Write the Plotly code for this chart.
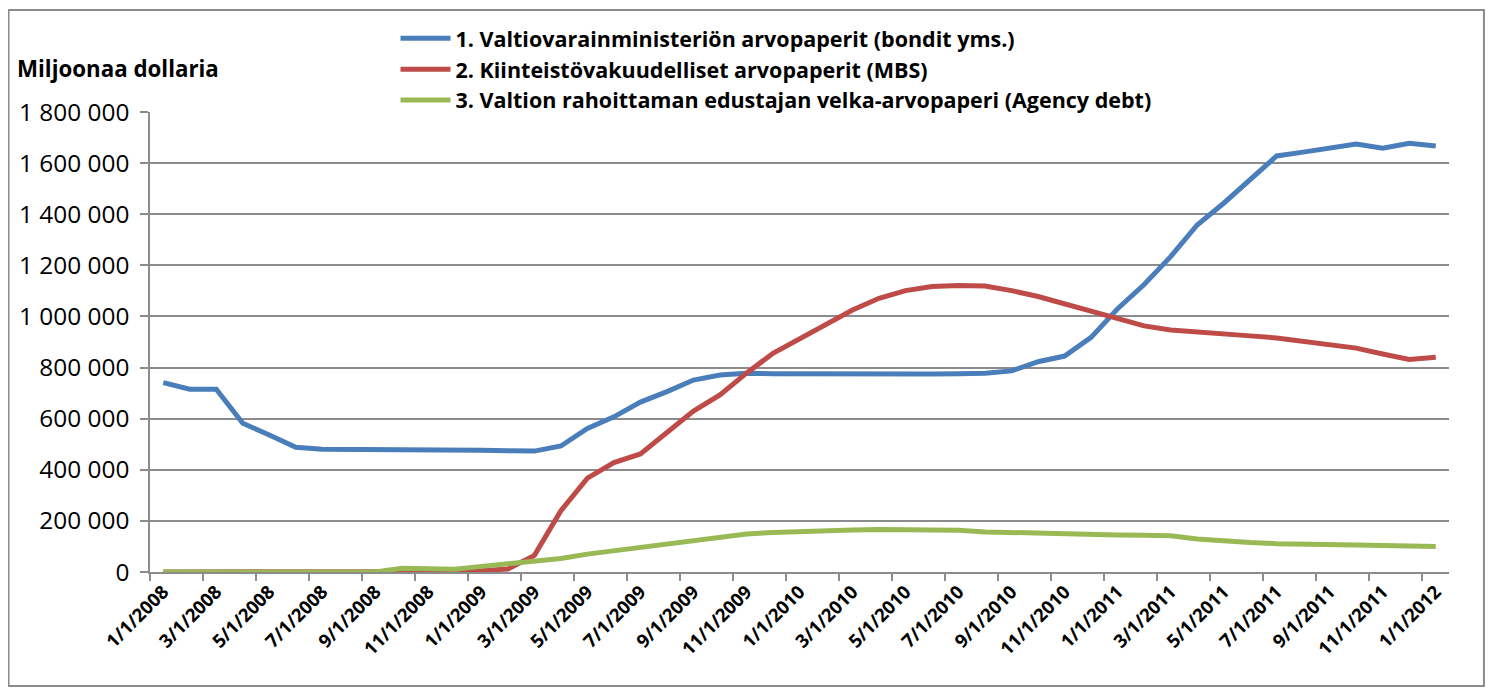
import plotly.graph_objects as go

# monthly observations, 1/1/2008 .. 1/1/2012 (millions of dollars, in thousands)
months = [f"{m}/1/{y}" for y in range(2008, 2012) for m in range(1, 13)] + ["1/1/2012"]

treasuries = [
    741, 715, 715, 582, 536, 488, 480, 480, 480, 478,
    477, 477, 476, 474, 473, 493, 562, 607, 665, 706,
    751, 771, 778, 776, 775, 775, 775, 775, 775, 775,
    776, 778, 787, 823, 845, 918, 1030, 1125, 1234, 1358,
    1443, 1534, 1628, 1643, 1659, 1675, 1658, 1678, 1667,
]
mbs = [
    0, 0, 0, 0, 0, 0, 0, 0, 0, 1,
    2, 2, 5, 12, 65, 240, 367, 428, 462, 549,
    630, 693, 778, 856, 911, 967, 1025, 1071, 1101, 1117,
    1121, 1119, 1101, 1078, 1049, 1022, 993, 963, 947, 938,
    930, 924, 916, 904, 891, 876, 853, 832, 840,
]
agency = [
    0, 0, 0, 0, 0, 0, 0, 0, 0, 15,
    14, 11, 22, 32, 42, 53, 70, 83, 99, 110,
    123, 138, 149, 155, 159, 163, 164, 166, 166, 164,
    163, 157, 154, 150, 147, 146, 145, 144, 142, 129,
    120, 115, 111, 108, 107, 106, 104, 103, 100,
]

names = [
    "1. Valtiovarainministeriön arvopaperit (bondit yms.)",
    "2. Kiinteistövakuudelliset arvopaperit (MBS)",
    "3. Valtion rahoittaman edustajan velka-arvopaperi (Agency debt)",
]
colors = ["#4A7EBB", "#BE4B48", "#98B954"]

FONT = "'Open Sans', Lato, sans-serif"
GRID = "#8C8C8C"

fig = go.Figure()
for name, vals, col in zip(names, [treasuries, mbs, agency], colors):
    fig.add_trace(go.Scatter(
        x=months, y=[v * 1000 for v in vals], mode="lines", name=name,
        line=dict(color=col, width=5),
    ))

# the page body adds an 8px margin, so the figure is sized to fit inside it
fig.update_layout(
    width=1477, height=679,
    margin=dict(l=142, r=36, t=104, b=115, autoexpand=False),
    paper_bgcolor="white", plot_bgcolor="white",
    separators=". ",
    font=dict(family=FONT, color="black"),
    showlegend=True,
    legend=dict(
        x=0.189, y=1.205, xanchor="left", yanchor="top",
        font=dict(size=21.5, family=FONT, weight="bold"),
        bgcolor="rgba(0,0,0,0)", itemwidth=50, tracegroupgap=0,
    ),
    xaxis=dict(
        type="category", range=[-0.5, len(months) - 0.5],
        tickmode="linear", tick0=0, dtick=2, tickson="boundaries",
        ticks="outside", ticklen=7, tickcolor=GRID, tickwidth=1.5,
        showline=True, linecolor=GRID, linewidth=1.5, showgrid=False,
        tickangle=-45, tickfont=dict(size=18.5, family=FONT, weight="bold"),
    ),
    yaxis=dict(
        range=[0, 1800000], tickmode="linear", tick0=0, dtick=200000,
        tickformat=",d", ticks="outside", ticklen=8, tickcolor=GRID, tickwidth=1.5,
        ticklabelstandoff=6,
        showline=True, linecolor=GRID, linewidth=1.5,
        showgrid=True, gridcolor=GRID, gridwidth=1.5, zeroline=False,
        tickfont=dict(size=24.4, family=FONT),
    ),
    annotations=[dict(
        text="<b>Miljoonaa dollaria</b>", xref="paper", yref="paper",
        x=-0.104, y=1.095, xanchor="left", yanchor="middle", showarrow=False,
        font=dict(size=22.3, family=FONT),
    )],
    shapes=[dict(
        type="rect", xref="paper", yref="paper",
        x0=-0.1089, x1=1.0269, y0=-0.2478, y1=1.2217,
        line=dict(color=GRID, width=2),
    )],
)

fig.write_html("out.html")
